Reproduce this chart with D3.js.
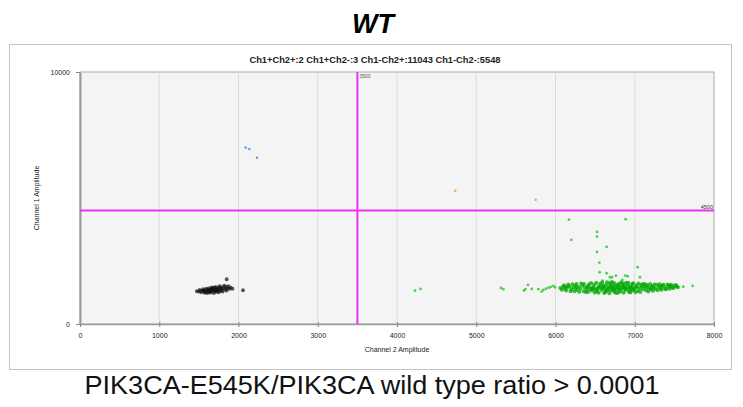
<!doctype html>
<html>
<head>
<script src="https://cdnjs.cloudflare.com/ajax/libs/d3/7.8.5/d3.min.js"></script>
<style>
body { margin: 0; background: #fff; }
svg { font-family: "Liberation Sans", Arial, sans-serif; }
.tick text { font-size: 7px; fill: #222; }
</style>
</head>
<body>
<svg id="chart" width="743" height="407"></svg>
<script>
// amplitudes: [channel 2, channel 1]
var xTicks = [0, 1000, 2000, 3000, 4000, 5000, 6000, 7000, 8000];
var yTicks = [0, 10000];
var thresholdX = 3500;
var thresholdY = 4500;
var header = "Ch1+Ch2+:2 Ch1+Ch2-:3 Ch1-Ch2+:11043 Ch1-Ch2-:5548";

var bluePts = [[2090, 7005], [2136, 6940], [2233, 6595]];
var orangePts = [[4735, 5284], [5750, 4927]];

var blackPts = [
  [1475, 1300], [1500, 1290], [1510, 1350], [1530, 1260], [1540, 1320], [1555, 1380],
  [1565, 1290], [1575, 1240], [1585, 1340], [1595, 1400], [1600, 1300], [1610, 1230],
  [1620, 1360], [1630, 1420], [1635, 1280], [1645, 1330], [1650, 1250], [1660, 1390],
  [1665, 1450], [1675, 1300], [1680, 1360], [1690, 1230], [1695, 1420], [1705, 1330],
  [1710, 1470], [1720, 1280], [1725, 1390], [1735, 1350], [1745, 1440], [1750, 1260],
  [1760, 1500], [1765, 1310], [1775, 1400], [1785, 1460], [1790, 1350], [1800, 1290],
  [1810, 1430], [1820, 1520], [1830, 1370], [1840, 1470], [1850, 1330], [1860, 1420],
  [1870, 1500], [1885, 1390], [1900, 1450], [1925, 1400], [1560, 1330], [1680, 1430],
  [1720, 1330], [1620, 1300], [1700, 1380], [1650, 1360], [1750, 1380], [1590, 1270],
  [1851, 1776], [2057, 1339]
];

// scattered green droplets: left tail, points above the cluster, right tail
var greenSparse = [
  [4227, 1325], [4298, 1390], [5312, 1430], [5341, 1380], [5602, 1325], [5620, 1380],
  [5653, 1550], [5700, 1390], [5783, 1380], [5825, 1285], [5846, 1350], [5880, 1400],
  [5914, 1443], [5939, 1470], [5972, 1510], [5994, 1457],
  [6170, 4145], [6885, 4160], [6524, 3655], [6524, 3470], [6200, 3337], [6645, 3060],
  [6524, 2860], [6553, 2436], [6557, 2054], [6645, 2015], [7036, 2253], [7066, 1855],
  [6688, 1855], [6713, 1855], [6763, 1920], [6880, 1920], [6910, 1895], [6590, 1720],
  [6843, 1748],
  [7612, 1483], [7730, 1510]
];

var greenCore = [
  [6060, 1430], [6095, 1470], [6120, 1400], [6150, 1450], [6175, 1500], [6200, 1380],
  [6225, 1440], [6250, 1520], [6270, 1350], [6290, 1470], [6315, 1410], [6340, 1540],
  [6355, 1300], [6370, 1450], [6395, 1370], [6410, 1510], [6425, 1580], [6440, 1420],
  [6460, 1330], [6475, 1470], [6490, 1560], [6505, 1380], [6520, 1290], [6535, 1440],
  [6550, 1510], [6565, 1600], [6580, 1350], [6595, 1420], [6610, 1480], [6625, 1270],
  [6640, 1550], [6655, 1390], [6670, 1460], [6685, 1620], [6700, 1330], [6715, 1420],
  [6730, 1500], [6745, 1260], [6760, 1570], [6775, 1380], [6790, 1450], [6805, 1530],
  [6820, 1300], [6835, 1410], [6850, 1610], [6865, 1480], [6880, 1350], [6895, 1440],
  [6910, 1560], [6925, 1280], [6940, 1400], [6955, 1500], [6970, 1590], [6985, 1340],
  [7000, 1450], [7020, 1530], [7040, 1310], [7060, 1420], [7080, 1570], [7100, 1380],
  [7120, 1480], [7140, 1340], [7160, 1540], [7180, 1430], [7200, 1370], [7220, 1510],
  [7240, 1450], [7260, 1390], [7280, 1560], [7300, 1470], [7325, 1420], [7350, 1530],
  [7375, 1460], [7400, 1400], [7425, 1510], [7450, 1480], [7475, 1440], [7500, 1520],
  [7530, 1490],
  [6480, 1420], [6530, 1380], [6570, 1470], [6620, 1410], [6660, 1350], [6690, 1490],
  [6720, 1380], [6750, 1440], [6780, 1510], [6810, 1370], [6840, 1480], [6870, 1420],
  [6900, 1380], [6930, 1470], [6960, 1430], [6990, 1390], [7030, 1470], [6600, 1530],
  [6740, 1340], [6860, 1540], [6700, 1560], [6950, 1330], [6640, 1300], [6800, 1600],
  [6080, 1360], [6105, 1540], [6135, 1330], [6160, 1570], [6190, 1300], [6215, 1580],
  [6240, 1300], [6265, 1590], [6300, 1280], [6325, 1610], [6360, 1590], [6385, 1260],
  [6415, 1280], [6450, 1630], [6495, 1250], [6515, 1640], [6545, 1240], [6590, 1650],
  [6615, 1230], [6650, 1660], [6680, 1220], [6710, 1670], [6735, 1640], [6770, 1230],
  [6795, 1250], [6830, 1660], [6860, 1240], [6890, 1640], [6920, 1640], [6945, 1250],
  [6980, 1620], [7010, 1260], [7045, 1610], [7070, 1270], [7110, 1590], [7135, 1580],
  [7170, 1290], [7195, 1590], [7230, 1320], [7250, 1570], [7290, 1340], [7315, 1580],
  [7340, 1360], [7365, 1560], [7390, 1380], [7415, 1570], [7440, 1400], [7460, 1560],
  [7490, 1430], [7520, 1550], [7545, 1460], [6130, 1480], [6260, 1440], [6400, 1460],
  [7090, 1500], [7210, 1440], [7330, 1490], [7440, 1530], [6450, 1400], [7150, 1460]
];

var svg = d3.select("#chart");

var margin = {left: 80, right: 714, top: 72, bottom: 324};

var x = d3.scaleLinear().domain([0, 8000]).range([margin.left, margin.right]);
var y = d3.scaleLinear().domain([0, 10000]).range([margin.bottom, margin.top]);

svg.append("text")
  .attr("x", 373).attr("y", 33)
  .attr("text-anchor", "middle")
  .style("font-size", "27px").style("font-weight", "bold").style("font-style", "italic")
  .text("WT");

svg.append("rect")
  .attr("x", 9.5).attr("y", 44.5).attr("width", 722).attr("height", 325)
  .attr("fill", "#fff").attr("stroke", "#c4c4c4");

svg.append("text")
  .attr("x", 375).attr("y", 63)
  .attr("text-anchor", "middle")
  .style("font-size", "9.3px").style("font-weight", "bold").style("fill", "#222")
  .text(header);

svg.append("rect")
  .attr("x", margin.left).attr("y", margin.top)
  .attr("width", margin.right - margin.left).attr("height", margin.bottom - margin.top)
  .attr("fill", "#f4f4f4").attr("stroke", "#aaa");

svg.append("g").selectAll("line")
  .data(xTicks.slice(1, -1))
  .enter().append("line")
  .attr("x1", d => x(d)).attr("x2", d => x(d))
  .attr("y1", margin.top).attr("y2", margin.bottom)
  .attr("stroke", "#dcdcdc");

var xAxis = svg.append("g")
  .attr("transform", "translate(0," + margin.bottom + ")")
  .call(d3.axisBottom(x).tickValues(xTicks).tickFormat(d3.format("d"))
    .tickSizeInner(3).tickSizeOuter(0).tickPadding(6));
xAxis.selectAll(".tick line").attr("y1", -2).attr("stroke", "#888");
xAxis.select(".domain").attr("stroke", "#999").attr("stroke-width", 1.5);

var yAxis = svg.append("g")
  .attr("transform", "translate(" + margin.left + ",0)")
  .call(d3.axisLeft(y).tickValues(yTicks).tickFormat(d3.format("d"))
    .tickSizeInner(4).tickSizeOuter(0).tickPadding(6));
yAxis.selectAll(".tick line").attr("stroke", "#888");
yAxis.select(".domain").attr("stroke", "#999").attr("stroke-width", 2);

svg.append("text")
  .attr("x", 397).attr("y", 352)
  .attr("text-anchor", "middle")
  .style("font-size", "7px").style("fill", "#222")
  .text("Channel 2 Amplitude");

svg.append("text")
  .attr("transform", "translate(39," + y(5000) + ") rotate(-90)")
  .attr("text-anchor", "middle")
  .style("font-size", "7px").style("fill", "#222")
  .text("Channel 1 Amplitude");

function drawPts(data, color, r, op) {
  svg.append("g").selectAll("circle")
    .data(data)
    .enter().append("circle")
    .attr("cx", d => x(d[0])).attr("cy", d => y(d[1]))
    .attr("r", r).attr("fill", color).attr("fill-opacity", op);
}

drawPts(blackPts, "#111", 1.9, 0.7);
drawPts(greenSparse, "#3ccc3c", 1.4, 0.9);
drawPts(greenCore, "#00a800", 2, 0.75);
drawPts(bluePts, "#4a90e0", 1.2, 0.9);
drawPts(orangePts, "#f0a050", 1.3, 0.9);

// threshold lines
svg.append("line")
  .attr("x1", x(thresholdX)).attr("x2", x(thresholdX))
  .attr("y1", margin.top).attr("y2", margin.bottom)
  .attr("stroke", "#f030f0").attr("stroke-width", 2);
svg.append("line")
  .attr("x1", margin.left).attr("x2", margin.right)
  .attr("y1", y(thresholdY)).attr("y2", y(thresholdY))
  .attr("stroke", "#f030f0").attr("stroke-width", 2);

svg.append("text")
  .attr("x", x(thresholdX) + 2).attr("y", margin.top + 6)
  .style("font-size", "5px").style("fill", "#555")
  .text(thresholdX);
svg.append("text")
  .attr("x", margin.right - 1).attr("y", y(thresholdY) - 2)
  .attr("text-anchor", "end")
  .style("font-size", "5.5px").style("fill", "#333")
  .text(thresholdY);

svg.append("text")
  .attr("x", 372).attr("y", 394)
  .attr("text-anchor", "middle")
  .attr("textLength", 575).attr("lengthAdjust", "spacingAndGlyphs")
  .style("font-size", "25px").style("fill", "#111")
  .text("PIK3CA-E545K/PIK3CA wild type ratio > 0.0001");
</script>
</body>
</html>
